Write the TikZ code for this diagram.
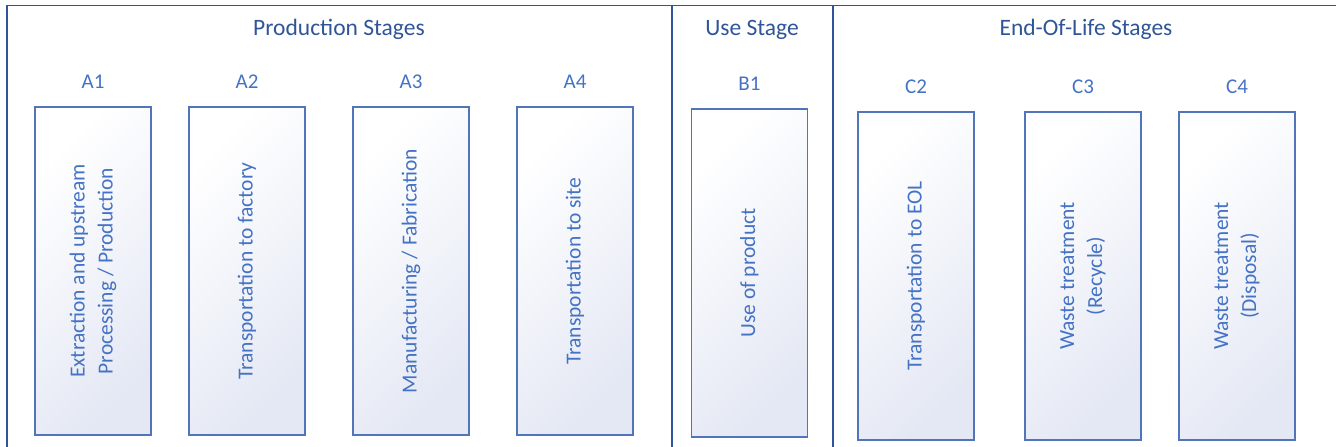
\documentclass[tikz,border=0pt]{standalone}
\usepackage{fontspec}
\setmainfont{Carlito}
\definecolor{darkblue}{HTML}{2F5597}
\definecolor{midblue}{HTML}{4472C4}
\definecolor{edgeblue}{HTML}{5274B8}
\definecolor{lavender}{HTML}{E4E8F4}
\tikzset{
  stagehead/.style={text=darkblue, font=\fontsize{23.5}{28}\selectfont},
  stagecode/.style={text=midblue, font=\fontsize{21}{25}\selectfont},
  stagebox/.style={draw=edgeblue, line width=1.4pt, rotate=90, inner sep=0pt,
    minimum width=328pt, minimum height=116pt, align=center, text=midblue,
    font=\fontsize{21.5}{28}\selectfont,
    top color=white, bottom color=lavender, shading angle=45}
}
\begin{document}
\begin{tikzpicture}[x=1pt, y=-1pt]
  \useasboundingbox (0,0) rectangle (1336,447);
  % frame
  \draw[darkblue, line width=1.5pt] (1336,5.5) -- (7,5.5) -- (7,447);
  \draw[darkblue, line width=1.3pt] (672,5.5) -- (672,447);
  \draw[darkblue, line width=1.3pt] (833,5.5) -- (833,447);
  \node[stagehead] (prod) at (339,29.5) {Production Stages};
  \node[stagehead] (use) at (752,29.5) {Use Stage};
  \node[stagehead] (eol) at (1086,29.5) {End-Of-Life Stages};
  % stages
  \foreach \n/\x/\y/\t in {A1/93/107/{Extraction and upstream\\Processing / Production},
      A2/247/107/{Transportation to factory}, A3/411/107/{Manufacturing / Fabrication},
      A4/575/107/{Transportation to site}, B1/749.5/109/{Use of product},
      C2/916/112/{Transportation to EOL}, C3/1083/112/{Waste treatment\\(Recycle)},
      C4/1237/112/{Waste treatment\\(Disposal)}}{
    \node[stagebox] (box\n) at (\x,\y+164) {\t};
    \node[stagecode] (code\n) at (\x,\y-25) {\n};
  }
\end{tikzpicture}
\end{document}
